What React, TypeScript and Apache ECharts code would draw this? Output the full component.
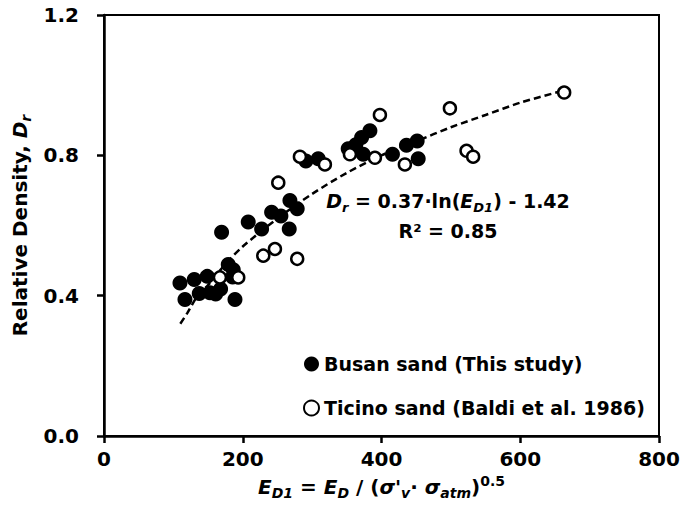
import React, { useEffect, useRef } from "react";
import * as echarts from "echarts";

// Busan sand (This study) – filled circles
const busanX = [109.5, 116.7, 130.1, 137.3, 148.8, 152.7, 161, 168.1, 169.5, 179.1, 186.3, 185.4, 188.8, 207.9, 227.2, 241.6, 255, 267, 268, 278.5, 291, 308.8, 352, 363, 371.3, 383.3, 373.6, 415.8, 436, 451.4, 452.9];
const busanY = [0.436, 0.389, 0.446, 0.406, 0.455, 0.408, 0.405, 0.419, 0.581, 0.489, 0.474, 0.453, 0.389, 0.61, 0.59, 0.638, 0.627, 0.59, 0.671, 0.648, 0.784, 0.79, 0.819, 0.83, 0.851, 0.87, 0.803, 0.803, 0.829, 0.841, 0.79];

// Ticino sand (Baldi et al. 1986) – open circles
const ticinoX = [167.1, 193.5, 229.6, 246.4, 251.2, 278.5, 282.4, 318.4, 354.5, 390.5, 397.7, 433.7, 498.6, 522.6, 532.1, 663.3];
const ticinoY = [0.452, 0.452, 0.514, 0.533, 0.722, 0.505, 0.796, 0.774, 0.803, 0.793, 0.915, 0.774, 0.934, 0.813, 0.796, 0.979];

// Trend line points
const trendX = [110, 120, 135, 150, 175, 200, 250, 300, 350, 400, 450, 500, 550, 600, 663];
const trendY = [0.32, 0.35, 0.40, 0.43, 0.49, 0.54, 0.62, 0.69, 0.75, 0.80, 0.84, 0.88, 0.915, 0.95, 0.985];

const legendNames = ["Busan sand (This study)", "Ticino sand (Baldi et al. 1986)"];
const equationLine1 = "{i|D}{s|r}{n| = 0.37·ln(}{i|E}{s|D1}{n|) - 1.42}";
const equationLine2 = "{n|R² = 0.85}";
const xName = "{i|E}{s|D1}{n| = }{i|E}{s|D}{n| / (}{i|σ'}{s|v}{n|· }{i|σ}{s|atm}{n|)}{p|0.5}";
const yName = "{n|Relative Density, }{i|D}{s|r}";

const F = "DejaVu Sans";

function makeRich(size: number) {
  const base = { fontFamily: F, fontWeight: "bold", color: "#000" };
  const sub = Math.round(size * 0.68);
  return {
    n: { ...base, fontSize: size, lineHeight: 26 },
    i: { ...base, fontSize: size, fontStyle: "italic", lineHeight: 26 },
    s: { ...base, fontSize: sub, fontStyle: "italic", lineHeight: sub, verticalAlign: "bottom" },
    p: { ...base, fontSize: sub, lineHeight: sub, verticalAlign: "top" },
  };
}

export default function App() {
  const ref = useRef<HTMLDivElement>(null);
  useEffect(() => {
    document.body.style.margin = "0";
    const chart = echarts.init(ref.current as HTMLDivElement, null, { renderer: "svg" });
    const rich19: any = makeRich(19);
    const rich20: any = makeRich(20);
    const axisLineStyle = { color: "#000", width: 2.5 };
    chart.setOption({
      animation: false,
      backgroundColor: "#fff",
      grid: { left: 104, right: 40, top: 15, bottom: 70, show: true, borderColor: "#000", borderWidth: 2 },
      xAxis: {
        type: "value",
        min: 0,
        max: 800,
        interval: 200,
        axisLine: { lineStyle: axisLineStyle },
        axisTick: { length: 7, lineStyle: axisLineStyle },
        splitLine: { show: false },
        axisLabel: { color: "#000", fontFamily: F, fontWeight: "bold", fontSize: 20, margin: 13 },
        name: xName,
        nameLocation: "middle",
        nameGap: 32,
        nameTextStyle: { rich: rich20 },
      },
      yAxis: {
        type: "value",
        min: 0,
        max: 1.2,
        interval: 0.4,
        axisLine: { lineStyle: axisLineStyle },
        axisTick: { length: 7, lineStyle: axisLineStyle },
        splitLine: { show: false },
        axisLabel: {
          color: "#000",
          fontFamily: F,
          fontWeight: "bold",
          fontSize: 20,
          margin: 25,
          formatter: (v: number) => v.toFixed(1),
        },
        name: yName,
        nameLocation: "middle",
        nameGap: 59,
        nameTextStyle: { rich: rich20 },
      },
      legend: {
        orient: "vertical",
        left: 298,
        top: 347,
        itemWidth: 15,
        itemHeight: 15,
        itemGap: 20,
        selectedMode: false,
        data: [
          { name: legendNames[0], icon: "circle" },
          { name: legendNames[1], icon: "circle" },
        ],
        textStyle: { fontFamily: F, fontWeight: "bold", fontSize: 19, color: "#000", lineHeight: 24 },
      },
      graphic: [
        {
          type: "text",
          x: 448,
          y: 201,
          style: { text: equationLine1, rich: rich19, align: "center", verticalAlign: "middle" },
        },
        {
          type: "text",
          x: 448,
          y: 231,
          style: { text: equationLine2, rich: rich19, align: "center", verticalAlign: "middle" },
        },
      ],
      series: [
        {
          type: "line",
          data: trendX.map((x, i) => [x, trendY[i]]),
          smooth: 0.3,
          symbol: "none",
          silent: true,
          lineStyle: { color: "#000", width: 2.5, type: [7, 4] },
          z: 1,
        },
        {
          name: legendNames[0],
          type: "scatter",
          data: busanX.map((x, i) => [x, busanY[i]]),
          symbol: "circle",
          symbolSize: 15,
          itemStyle: { color: "#000", opacity: 1 },
          z: 2,
        },
        {
          name: legendNames[1],
          type: "scatter",
          data: ticinoX.map((x, i) => [x, ticinoY[i]]),
          symbol: "circle",
          symbolSize: 12,
          itemStyle: { color: "#fff", borderColor: "#000", borderWidth: 2.5, opacity: 1 },
          z: 3,
        },
      ],
    });
    return () => chart.dispose();
  }, []);
  return <div ref={ref} style={{ width: 699, height: 506 }} />;
}
